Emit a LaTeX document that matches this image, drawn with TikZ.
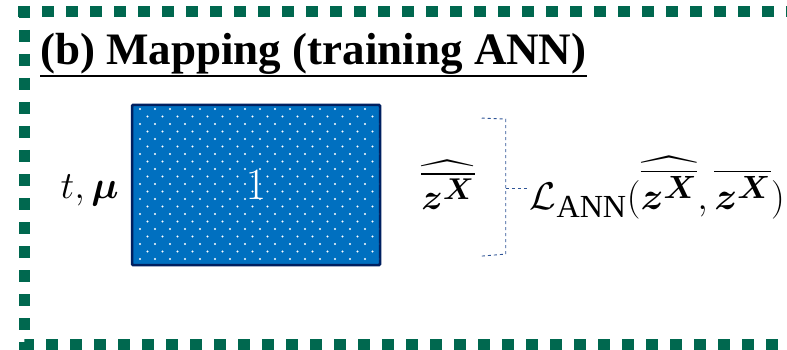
\documentclass[tikz,border=0pt]{standalone}
\usepackage{amsmath,bm,graphicx}
\usepackage{fontspec}
\setmainfont{Liberation Serif}
\usetikzlibrary{positioning}
\definecolor{FrameGreen}{HTML}{00684F}
\definecolor{NetBlue}{HTML}{0070C0}
\definecolor{NetNavy}{HTML}{002060}
\definecolor{BrBlue}{HTML}{2F5597}
\newcommand{\zbar}{\overline{\bm{z}^{\bm{X}}}}
\newcommand{\bigmath}[2]{\scalebox{#1}{$#2$}}

\begin{document}
\begin{tikzpicture}[x=1pt,y=-1pt,node distance=10pt]
    \tikzset{frame/.style={draw=FrameGreen,line width=11pt,dash pattern=on 12pt off 12pt},
      netbox/.style={draw=NetNavy,fill=NetBlue,line width=2.5pt,minimum width=248pt,minimum height=160pt,
        rounded corners=1pt,text=white},
      eq/.style={font=\Huge,inner sep=0pt},
      bracket/.style={draw=BrBlue,dashed,line width=0.9pt}}
    \useasboundingbox (0,0) rectangle (787,350);
    % dashed frame, open to the right
    \draw[frame] (18,12) -- (800,12);
    \draw[frame] (24,6) -- (24,344) -- (800,344);
    \node[anchor=base west,inner sep=0pt,font=\fontsize{45}{50}\selectfont\bfseries] (title) at (40,65) {(b) Mapping (training ANN)};
    \draw[line width=2.5pt] ([yshift=-11pt]title.base west) -- ([yshift=-11pt]title.base east);
    % network block
    \node[netbox] (net) at (256,185) {};
    \begin{scope}
      \clip (133,106) rectangle (379,264);
      \foreach \i in {0,...,16}
        \foreach \j in {0,...,21}
          \fill[white] ({140+15*\i+7.5*mod(\j,2)},{109+7.5*\j}) circle (1.1pt);
    \end{scope}
    \node[eq,text=white] (one) at (net) {\bigmath{1.8}{1}};
    \node[eq,left=12pt of net,yshift=-5pt] (inp) {\bigmath{1.55}{t,\bm{\mu}}};
    \node[eq,right=40pt of net] (zhat) {\bigmath{1.45}{\widehat{\zbar}}};
    \node[eq,base right=55pt of zhat] (loss) {\bigmath{1.55}{\mathcal{L}_{\mathrm{ANN}}(\widehat{\zbar},\zbar)}};
    \coordinate[left=24pt of loss.west] (brmid);
    \draw[bracket] ([xshift=-24pt,yshift=70pt]brmid) -- ([yshift=69pt]brmid) -- ([yshift=-66pt]brmid) -- ([xshift=-24pt,yshift=-68pt]brmid);
    \draw[bracket] (brmid) -- (loss.west);
  \end{tikzpicture}
\end{document}
